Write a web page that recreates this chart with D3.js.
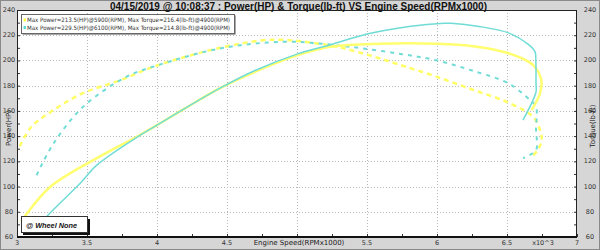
<!DOCTYPE html>
<html><head><meta charset="utf-8">
<script src="https://cdn.jsdelivr.net/npm/d3@7/dist/d3.min.js"></script>
<style>html,body{margin:0;padding:0;background:#d6d6d6;}svg{display:block;}</style>
</head><body>
<svg id="c" width="600" height="250"></svg>
<script>
// ---- data (RPM x1000, value) ----
const power1 = [[3.03,72],[3.06,77],[3.24,100],[3.57,122.5],[3.855,139.5],[4.0,148.7],[4.2,162],[4.45,178],[4.7,191],[5.0,204],[5.25,211],[5.6,213.3],[5.9,213.5],[6.2,212],[6.45,207.5],[6.6,202],[6.69,196],[6.745,184.4],[6.736,174],[6.676,160.6]];
const power2 = [[3.17,70],[3.21,76],[3.45,102.4],[3.57,117],[3.855,139],[4.0,148.7],[4.2,162],[4.45,178],[4.7,192],[5.0,205],[5.24,212.5],[5.5,221],[5.8,227],[6.05,229.5],[6.1,229.5],[6.3,227],[6.52,221.5],[6.65,213],[6.70,207],[6.706,200],[6.707,182],[6.707,175],[6.614,152.7]];
const torque1 = [[3.02,132],[3.1,147],[3.26,160.6],[3.47,174],[3.74,184.4],[4.0,196],[4.45,210],[4.76,216],[4.9,216.4],[5.04,215],[5.28,211],[5.52,204],[5.75,196],[6.0,187],[6.25,177],[6.5,167],[6.686,155.3],[6.736,144.8],[6.748,136.8],[6.72,129],[6.676,123.6]];
const torque2 = [[3.14,109],[3.26,134],[3.47,163],[3.78,187],[4.0,196],[4.45,209.5],[4.9,214.8],[5.2,213],[5.45,209.8],[5.75,205],[6.0,200],[6.25,192],[6.51,181.8],[6.664,168.6],[6.707,163.3],[6.707,145],[6.707,129],[6.614,122.5]];
const legendLabels = ["Max Power=213.5(HP)@5900(RPM), Max Torque=216.4(lb-ft)@4900(RPM)",
                      "Max Power=229.5(HP)@6100(RPM), Max Torque=214.8(lb-ft)@4900(RPM)"];
const xTicks = [3,3.5,4,4.5,5,5.5,6,6.5,7];
const xTickLabels = ["3","3.5","4","4.5","","5.5","6","6.5","7"];
const yTicks = [60,80,100,120,140,160,180,200,220,240];
const title = "04/15/2019 @ 10:08:37 : Power(HP) & Torque(lb-ft) VS Engine Speed(RPMx1000)";

const svg = d3.select("#c");
const L=17,R=577,T=10,B=237;
const x = d3.scaleLinear().domain([3,7]).range([L,R]);
const y = d3.scaleLinear().domain([60,240]).range([B,T]);
const font = "'DejaVu Sans', Verdana, sans-serif";

svg.append("rect").attr("x",0.5).attr("y",0.5).attr("width",599).attr("height",249).attr("fill","#d6d6d6").attr("stroke","#8a8a8a");
svg.append("rect").attr("x",L).attr("y",T).attr("width",R-L).attr("height",B-T).attr("fill","#fff");

// grid
const g = svg.append("g");
g.selectAll(".vg").data(xTicks.slice(1,-1)).join("line")
 .attr("x1",d=>Math.round(x(d))+0.5).attr("x2",d=>Math.round(x(d))+0.5).attr("y1",T).attr("y2",B)
 .attr("stroke","#b8b8b8").attr("stroke-dasharray","1,2");
g.selectAll(".hg").data(yTicks.slice(1,-1)).join("line")
 .attr("y1",d=>Math.round(y(d))+0.5).attr("y2",d=>Math.round(y(d))+0.5).attr("x1",L).attr("x2",R)
 .attr("stroke","#b8b8b8").attr("stroke-dasharray","1,2");

// axes
const xAxis = d3.axisTop(x).tickValues(d3.range(3,7.01,0.25)).tickSize(3).tickFormat("");
const ax = svg.append("g").attr("transform",`translate(0,${B})`).call(xAxis);
ax.select(".domain").remove();
ax.selectAll("line").attr("stroke","#333");
const ylAxis = d3.axisRight(y).tickValues(d3.range(60,240.1,10)).tickSize(3).tickFormat("");
const ayl = svg.append("g").attr("transform",`translate(${L},0)`).call(ylAxis);
ayl.select(".domain").remove(); ayl.selectAll("line").attr("stroke","#333");
const yrAxis = d3.axisLeft(y).tickValues(d3.range(60,240.1,10)).tickSize(3).tickFormat("");
const ayr = svg.append("g").attr("transform",`translate(${R},0)`).call(yrAxis);
ayr.select(".domain").remove(); ayr.selectAll("line").attr("stroke","#333");

svg.append("rect").attr("x",L+0.5).attr("y",T+0.5).attr("width",R-L-1).attr("height",B-T-1).attr("fill","none").attr("stroke","#222");
svg.append("line").attr("x1",L).attr("x2",R).attr("y1",B).attr("y2",B).attr("stroke","#111").attr("stroke-width",2);

// tick labels
svg.selectAll(".xl").data(xTicks).join("text").attr("x",d=>x(d)).attr("y",245)
 .attr("text-anchor","middle").attr("font-family",font).attr("font-size",6.5).attr("fill","#333")
 .text((d,i)=>xTickLabels[i]);
svg.selectAll(".yl").data(yTicks).join("text").attr("x",9).attr("y",d=>y(d)+2)
 .attr("text-anchor","middle").attr("font-family",font).attr("font-size",6.5).attr("fill","#333").text(d=>d);
svg.selectAll(".yr").data(yTicks).join("text").attr("x",590).attr("y",d=>y(d)+2)
 .attr("text-anchor","middle").attr("font-family",font).attr("font-size",6.5).attr("fill","#333").text(d=>d);

// curves
const line = d3.line().x(d=>x(d[0])).y(d=>y(d[1])).curve(d3.curveCatmullRom.alpha(0.5));
const plot = svg.append("g");
plot.append("path").datum(torque1).attr("d",line).attr("fill","none").attr("stroke","#ffff66").attr("stroke-width",2.5).attr("stroke-dasharray","5,4");
plot.append("path").datum(torque2).attr("d",line).attr("fill","none").attr("stroke","#70dcd6").attr("stroke-width",2).attr("stroke-dasharray","4,5");
plot.append("path").datum(power1).attr("d",line).attr("fill","none").attr("stroke","#ffff70").attr("stroke-width",2.5);
plot.append("path").datum(power2).attr("d",line).attr("fill","none").attr("stroke","#70dcd6").attr("stroke-width",1.5);

// legend
svg.append("rect").attr("x",22.5).attr("y",15.5).attr("width",213).attr("height",19).attr("fill","#555");
svg.append("rect").attr("x",21.5).attr("y",14.5).attr("width",213).attr("height",19).attr("fill","#fff").attr("stroke","#666");
const lc = ["#ffff44","#5cd8d0"];
legendLabels.forEach((t,i)=>{
  svg.append("rect").attr("x",23.5).attr("y",18.5+i*7.5).attr("width",2.5).attr("height",3).attr("fill",lc[i]);
  svg.append("text").attr("x",27).attr("y",22+i*7.5).attr("font-family",font).attr("font-size",6)
   .attr("fill","#333").attr("textLength",203).attr("lengthAdjust","spacingAndGlyphs").text(t);
});

// wheel box
svg.append("rect").attr("x",23).attr("y",219).attr("width",67).attr("height",16).attr("fill","#111");
svg.append("rect").attr("x",21.5).attr("y",216.5).attr("width",66).attr("height",16).attr("fill","#fff").attr("stroke","#333");
svg.append("text").attr("x",26).attr("y",227.5).attr("font-family","'Liberation Sans', Arial, sans-serif").attr("font-size",8)
 .attr("font-weight","bold").attr("font-style","italic").attr("fill","#111").attr("textLength",51).attr("lengthAdjust","spacingAndGlyphs").text("@ Wheel None");

// title & axis titles
svg.append("text").attr("x",110).attr("y",10).attr("font-family","'Liberation Sans', Arial, sans-serif").attr("font-size",11)
 .attr("font-weight","bold").attr("fill","#111").attr("textLength",377).attr("lengthAdjust","spacingAndGlyphs").text(title);
svg.append("text").attr("x",299).attr("y",245).attr("text-anchor","middle").attr("font-family",font).attr("font-size",7)
 .attr("fill","#222").text("Engine Speed(RPMx1000)");
svg.append("text").attr("x",543).attr("y",244.5).attr("text-anchor","middle").attr("font-family",font).attr("font-size",6.5)
 .attr("fill","#333").text("x10^3");
svg.append("text").attr("transform","translate(11,128) rotate(-90)").attr("text-anchor","middle").attr("font-family",font).attr("font-size",7)
 .attr("fill","#222").text("Power(HP)");
svg.append("text").attr("transform","translate(595,126) rotate(-90)").attr("text-anchor","middle").attr("font-family",font).attr("font-size",7)
 .attr("fill","#222").text("Torque(lb-ft)");
</script>
</body></html>
